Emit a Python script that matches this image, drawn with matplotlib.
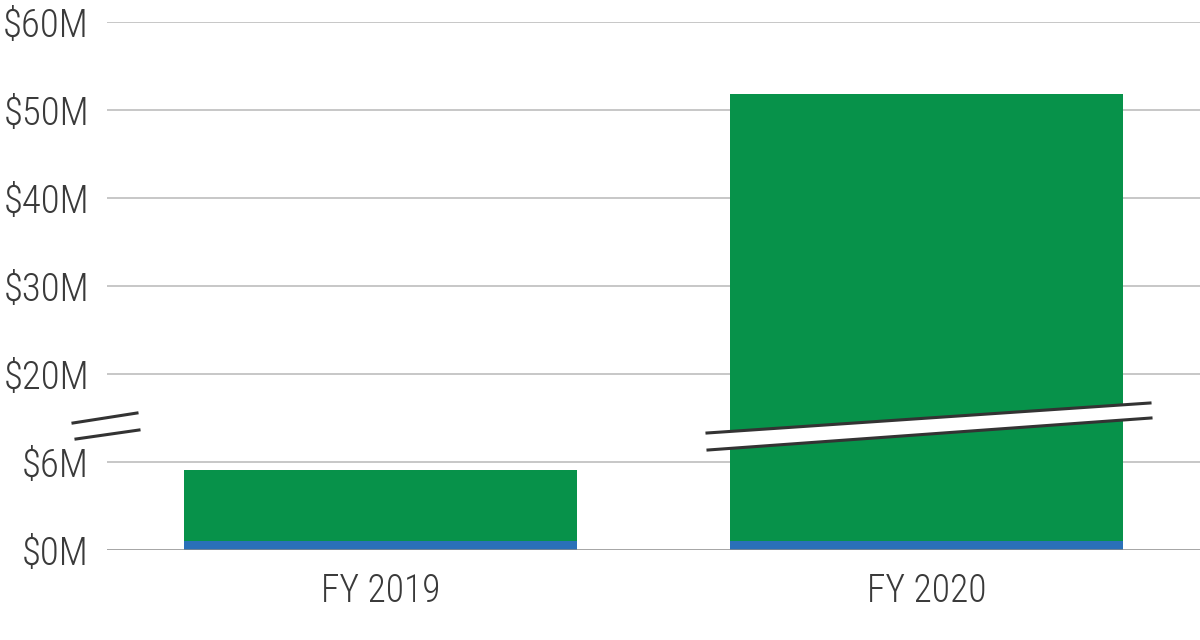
import matplotlib
matplotlib.use("Agg")
import matplotlib.pyplot as plt
from matplotlib import font_manager
import numpy as np

# data (in $M)
years = ["FY 2019", "FY 2020"]
blue_part = [0.6, 0.6]
totals = [5.45, 51.8]
green_part = [t - b for t, b in zip(totals, blue_part)]

tick_vals = [0, 6, 20, 30, 40, 50, 60]
tick_labels = ["$0M", "$6M", "$20M", "$30M", "$40M", "$50M", "$60M"]

GREEN = "#07924a"
BLUE = "#2a70b8"
TEXT = "#3a3a3a"

fam = "DejaVu Sans"
for f in ["Liberation Sans Narrow", "Roboto Condensed", "Open Sans"]:
    try:
        font_manager.findfont(f, fallback_to_default=False)
        fam = f
        break
    except Exception:
        pass
plt.rcParams["font.family"] = [fam, "DejaVu Sans"]
plt.rcParams["font.weight"] = "light"

# broken axis: 0-6 and 20-60 share one linear position scale
brk_v = [0, 6, 20, 60]
brk_p = [0, 1, 2, 6]


def fwd(v):
    return np.interp(v, brk_v, brk_p)


def inv(p):
    return np.interp(p, brk_p, brk_v)


W, H = 1200, 640
fig = plt.figure(figsize=(12, 6.4), dpi=100)
ax = fig.add_axes([107 / W, 1 - 550 / H, 1 - 107 / W, (550 - 22) / H])
ax.set_yscale("function", functions=(fwd, inv))

x = np.arange(len(years))
ax.bar(x, blue_part, width=0.72, color=BLUE, zorder=3)
ax.bar(x, green_part, bottom=blue_part, width=0.72, color=GREEN, zorder=3)

ax.set_xlim(-0.5, 1.5)
ax.set_ylim(0, 60)
ax.set_yticks(tick_vals)
ax.set_yticklabels(tick_labels)
ax.yaxis.set_minor_locator(matplotlib.ticker.NullLocator())
ax.set_xticks(x)
ax.set_xticklabels(years)
ax.tick_params(axis="y", length=0, pad=13, labelsize=28, labelcolor=TEXT)
ax.tick_params(axis="x", length=0, pad=16, labelsize=27, labelcolor=TEXT)

for v in tick_vals[1:]:
    ax.axhline(v, color="#bdbdbd", lw=1.2, zorder=1)
ax.axhline(0, color="#8a8a8a", lw=1.8, zorder=4)

for s in ax.spines.values():
    s.set_visible(False)


def px(xp, yp):
    return xp / W, 1 - yp / H


# break marks on the axis
for (x0, y0, x1, y1) in [(73, 423, 137, 413), (76, 439, 139, 430)]:
    a, b = px(x0, y0)
    c, d = px(x1, y1)
    fig.add_artist(plt.Line2D([a, c], [b, d], color="#333333", lw=2.2))

# break band across the tall bar
up = [(707, 433), (1150, 403)]
lo = [(708, 450), (1151, 418)]
poly = [px(*p) for p in up] + [px(*p) for p in lo[::-1]]
fig.add_artist(plt.Polygon(poly, closed=True, color="white", lw=0, transform=fig.transFigure, zorder=5))
for line in (up, lo):
    pts = [px(*p) for p in line]
    fig.add_artist(plt.Line2D([pts[0][0], pts[1][0]], [pts[0][1], pts[1][1]],
                              color="#333333", lw=2.2, zorder=6))

fig.savefig("out.png", dpi=100)
